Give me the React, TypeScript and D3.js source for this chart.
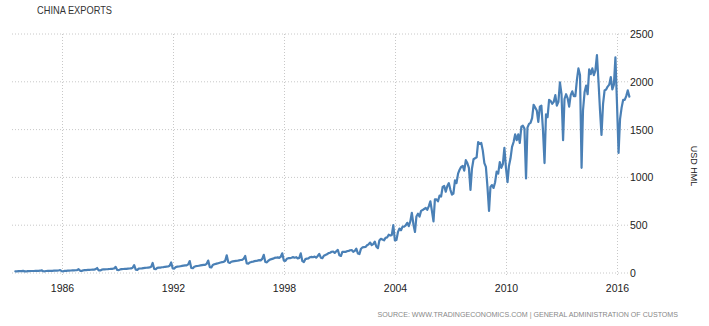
import React from 'react';
import * as d3 from 'd3';

// monthly exports, USD hundred million (1983 starts in July)
const exports1983 = [18, 18, 19, 19, 20, 23];
const exports1984 = [17, 16, 19, 20, 21, 21, 21, 22, 22, 23, 24, 28];
const exports1985 = [19, 18, 21, 22, 22, 23, 23, 24, 24, 25, 26, 31];
const exports1986 = [19, 18, 22, 23, 24, 25, 26, 27, 28, 29, 31, 40];
const exports1987 = [23, 22, 28, 30, 31, 32, 33, 34, 35, 36, 40, 52];
const exports1988 = [28, 27, 35, 37, 38, 39, 40, 42, 43, 44, 48, 64];
const exports1989 = [32, 30, 38, 41, 42, 43, 44, 46, 47, 48, 55, 82];
const exports1990 = [36, 33, 46, 47, 48, 51, 53, 55, 57, 58, 65, 105];
const exports1991 = [42, 40, 53, 56, 57, 60, 62, 65, 67, 68, 76, 110];
const exports1992 = [48, 46, 62, 66, 68, 71, 74, 77, 80, 80, 90, 125];
const exports1993 = [52, 50, 66, 71, 73, 76, 79, 82, 85, 86, 96, 130];
const exports1994 = [62, 58, 84, 92, 96, 100, 105, 110, 114, 116, 128, 185];
const exports1995 = [112, 105, 118, 122, 124, 126, 128, 132, 136, 138, 148, 178];
const exports1996 = [100, 98, 110, 116, 118, 124, 126, 130, 134, 132, 148, 190];
const exports1997 = [115, 112, 128, 140, 145, 150, 158, 160, 164, 158, 170, 206];
const exports1998 = [130, 126, 148, 155, 155, 160, 166, 160, 165, 152, 158, 205];
const exports1999 = [125, 115, 145, 150, 152, 165, 168, 165, 172, 160, 178, 200];
const exports2000 = [160, 155, 180, 188, 195, 208, 212, 222, 224, 210, 228, 242];
const exports2001 = [185, 178, 220, 220, 220, 228, 230, 238, 240, 222, 232, 255];
const exports2002 = [205, 198, 250, 268, 270, 272, 290, 300, 318, 292, 302, 328];
const exports2003 = [275, 260, 340, 358, 350, 342, 368, 372, 400, 392, 396, 500];
const exports2004 = [340, 345, 427, 465, 447, 485, 484, 498, 525, 490, 540, 630];
const exports2005 = [508, 429, 590, 620, 590, 650, 658, 670, 680, 660, 700, 750];
const exports2006 = [650, 540, 770, 770, 750, 810, 800, 900, 910, 850, 910, 940];
const exports2007 = [870, 820, 830, 970, 940, 1040, 1080, 1110, 1120, 1070, 1180, 1150];
const exports2008 = [1100, 870, 1090, 1190, 1200, 1210, 1370, 1350, 1360, 1280, 1150, 1110];
const exports2009 = [900, 650, 900, 920, 890, 950, 1060, 1040, 1160, 1100, 1140, 1310];
const exports2010 = [1100, 950, 1120, 1200, 1320, 1370, 1450, 1390, 1450, 1360, 1530, 1540];
const exports2011 = [1510, 990, 1520, 1560, 1570, 1620, 1760, 1730, 1700, 1580, 1740, 1750];
const exports2012 = [1500, 1150, 1660, 1630, 1810, 1800, 1770, 1790, 1860, 1750, 1790, 1995];
const exports2013 = [1870, 1390, 1820, 1870, 1830, 1740, 1860, 1900, 1850, 1850, 2020, 2140];
const exports2014 = [2070, 1100, 1700, 1890, 1960, 1870, 2130, 2080, 2140, 2070, 2120, 2280];
const exports2015 = [2000, 1690, 1445, 1770, 1910, 1920, 1950, 1970, 2050, 1920, 1970, 2255];
const exports2016 = [1770, 1255, 1610, 1730, 1810, 1810, 1850, 1910, 1845];

const yearly = [
  exports1983, exports1984, exports1985, exports1986, exports1987, exports1988,
  exports1989, exports1990, exports1991, exports1992, exports1993, exports1994,
  exports1995, exports1996, exports1997, exports1998, exports1999, exports2000,
  exports2001, exports2002, exports2003, exports2004, exports2005, exports2006,
  exports2007, exports2008, exports2009, exports2010, exports2011, exports2012,
  exports2013, exports2014, exports2015, exports2016,
];

const xTickYears = [1986, 1992, 1998, 2004, 2010, 2016];
const yTicks = [0, 500, 1000, 1500, 2000, 2500];

const W = 709;
const H = 326;
const font = "'Liberation Sans', Arial, sans-serif";

type Pt = { date: Date; value: number };

const series: Pt[] = [];
yearly.forEach((vals, i) => {
  const year = 1983 + i;
  const startMonth = i === 0 ? 6 : 0;
  vals.forEach((v, m) => {
    series.push({ date: new Date(year, startMonth + m, 1), value: v });
  });
});

export default function App() {
  const x = d3.scaleTime()
    .domain([new Date(1986, 0, 1), new Date(2016, 0, 1)])
    .range([61.7, 617]);
  const y = d3.scaleLinear().domain([0, 2500]).range([273, 34]);

  const line = d3.line<Pt>()
    .x(d => x(d.date))
    .y(d => y(d.value));

  const gridLeft = 12;
  const gridRight = 628;

  return (
    <svg width={W} height={H} style={{ position: 'absolute', left: 0, top: 0, background: '#fff' }}>
      <text x={37} y={13.5} fontFamily={font} fontSize={10.5} fill="#333"
        textLength={75} lengthAdjust="spacingAndGlyphs">CHINA EXPORTS</text>

      {yTicks.map(t => (
        <g key={t}>
          <line x1={gridLeft} x2={gridRight} y1={y(t)} y2={y(t)}
            stroke="#c8c8c8" strokeDasharray="1,2" />
          <text x={630} y={y(t) + 4} fontFamily={font} fontSize={10.5} fill="#222">{t}</text>
        </g>
      ))}

      {xTickYears.map(yr => {
        const px = Math.round(x(new Date(yr, 0, 1))) + 0.5;
        return (
          <g key={yr}>
            <line x1={px} x2={px} y1={y(2500)} y2={y(0) + 4}
              stroke="#c8c8c8" strokeDasharray="1,2" />
            <text x={px} y={292} textAnchor="middle" fontFamily={font} fontSize={10.5} fill="#222">{yr}</text>
          </g>
        );
      })}

      <path d={line(series) || ''} fill="none" stroke="#4a80b6" strokeWidth={2.2}
        strokeLinejoin="round" strokeLinecap="round" />

      <text transform={`translate(691,166) rotate(90)`} textAnchor="middle"
        fontFamily={font} fontSize={9} fill="#222">USD HML</text>

      <text x={678} y={317} textAnchor="end" fontFamily={font} fontSize={7.1} fill="#888">
        SOURCE: WWW.TRADINGECONOMICS.COM | GENERAL ADMINISTRATION OF CUSTOMS
      </text>
    </svg>
  );
}
